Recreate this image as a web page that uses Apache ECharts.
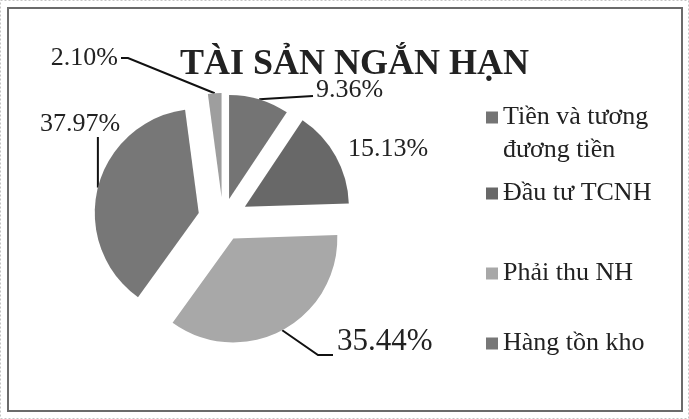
<!DOCTYPE html>
<html>
<head>
<meta charset="utf-8">
<title>Tài sản ngắn hạn</title>
<script src="https://cdn.jsdelivr.net/npm/echarts@6/dist/echarts.min.js"></script>
<style>
  html, body { margin: 0; padding: 0; background: #fff; }
  #chart { width: 689px; height: 419px; }
</style>
</head>
<body>
<div id="chart"></div>
<script>
  // values (percent of short-term assets)
  const categories = ['Tiền và tương đương tiền', 'Đầu tư TCNH', 'Phải thu NH', 'Hàng tồn kho', 'Khác'];
  const values = [9.36, 15.13, 35.44, 37.97, 2.10];
  const legendLabels = ['\nTiền và tương\nđương tiền', 'Đầu tư TCNH', 'Phải thu NH', 'Hàng tồn kho'];

  const sliceColors = ['#747474', '#686868', '#a8a8a8', '#777777', '#9e9e9e'];
  const explode = [21, 25, 22, 25, 22];   // px each slice is pulled out
  const CX = 223, CY = 219, R = 104;
  const FONT = '"Liberation Serif", "Times New Roman", serif';

  const chart = echarts.init(document.getElementById('chart'));

  // one legend per entry, the spacing in the picture is not even
  const legendTops = [68, 177, 257, 327];
  const legends = legendLabels.map((label, i) => ({
    data: [categories[i]],
    left: 486,
    top: legendTops[i],
    padding: 0,
    itemWidth: 12,
    itemHeight: 12,
    icon: 'rect',
    selectedMode: false,
    formatter: () => label,
    textStyle: { fontFamily: FONT, fontSize: 26, color: '#222', lineHeight: 33 },
  }));

  // label placement as in the picture
  function labelLayout(i) {
    return function (params) {
      const p = params.labelLinePoints ? params.labelLinePoints[0] : [0, 0];
      switch (i) {
        case 0:
          return { x: 316, y: 90, align: 'left', verticalAlign: 'middle', labelLinePoints: [p, [313, 96], [313, 96]] };
        case 1:
          return { x: 348, y: 149, align: 'left', verticalAlign: 'middle' };
        case 2:
          return { x: 337, y: 342, align: 'left', verticalAlign: 'middle', labelLinePoints: [p, [318, 355], [333, 355]] };
        case 3:
          return { x: 80, y: 124, align: 'center', verticalAlign: 'middle', labelLinePoints: [p, [p[0], 137], [p[0], 137]] };
        case 4:
          return { x: 118, y: 58, align: 'right', verticalAlign: 'middle', labelLinePoints: [p, [128, 58], [121, 58]] };
      }
    };
  }

  // exploded pie: each slice is its own pie series, shifted along its bisector
  const total = values.reduce((a, b) => a + b, 0);
  let acc = 0;
  const series = values.map((v, i) => {
    const startDeg = acc / total * 360;
    const midRad = (acc + v / 2) / total * 2 * Math.PI;
    acc += v;
    return {
      type: 'pie',
      name: 'slice' + i,
      center: [CX + explode[i] * Math.sin(midRad), CY - explode[i] * Math.cos(midRad)],
      radius: R,
      startAngle: 90 - startDeg,
      clockwise: true,
      avoidLabelOverlap: false,
      label: {
        show: true,
        position: 'outside',
        fontFamily: FONT,
        fontSize: i === 2 ? 31 : 26,
        color: '#222',
        overflow: 'none',
        formatter: p => p.value.toFixed(2) + '%',
      },
      labelLine: { show: i !== 1, lineStyle: { color: '#111', width: 2 } },
      labelLayout: labelLayout(i),
      emphasis: { scale: false },
      data: [
        { name: categories[i], value: v, itemStyle: { color: sliceColors[i] } },
        {
          name: '', value: total - v,
          itemStyle: { color: 'rgba(0,0,0,0)' },
          label: { show: false }, labelLine: { show: false },
          emphasis: { disabled: true }, silent: true,
        },
      ],
    };
  });

  chart.setOption({
    animation: false,
    title: {
      text: 'TÀI SẢN NGẮN HẠN',
      left: 175,
      top: 42,
      textStyle: { fontFamily: FONT, fontSize: 36, fontWeight: 'bold', color: '#222' },
    },
    legend: legends,
    graphic: [
      { type: 'rect', shape: { x: 0.5, y: 0.5, width: 688, height: 418 }, style: { fill: 'none', stroke: '#c4c4c4', lineWidth: 1, lineDash: [2, 2] }, silent: true },
      { type: 'rect', shape: { x: 8, y: 8, width: 674, height: 403 }, style: { fill: 'none', stroke: '#6b6b6b', lineWidth: 2 }, silent: true },
    ],
    series: series,
  });
</script>
</body>
</html>
